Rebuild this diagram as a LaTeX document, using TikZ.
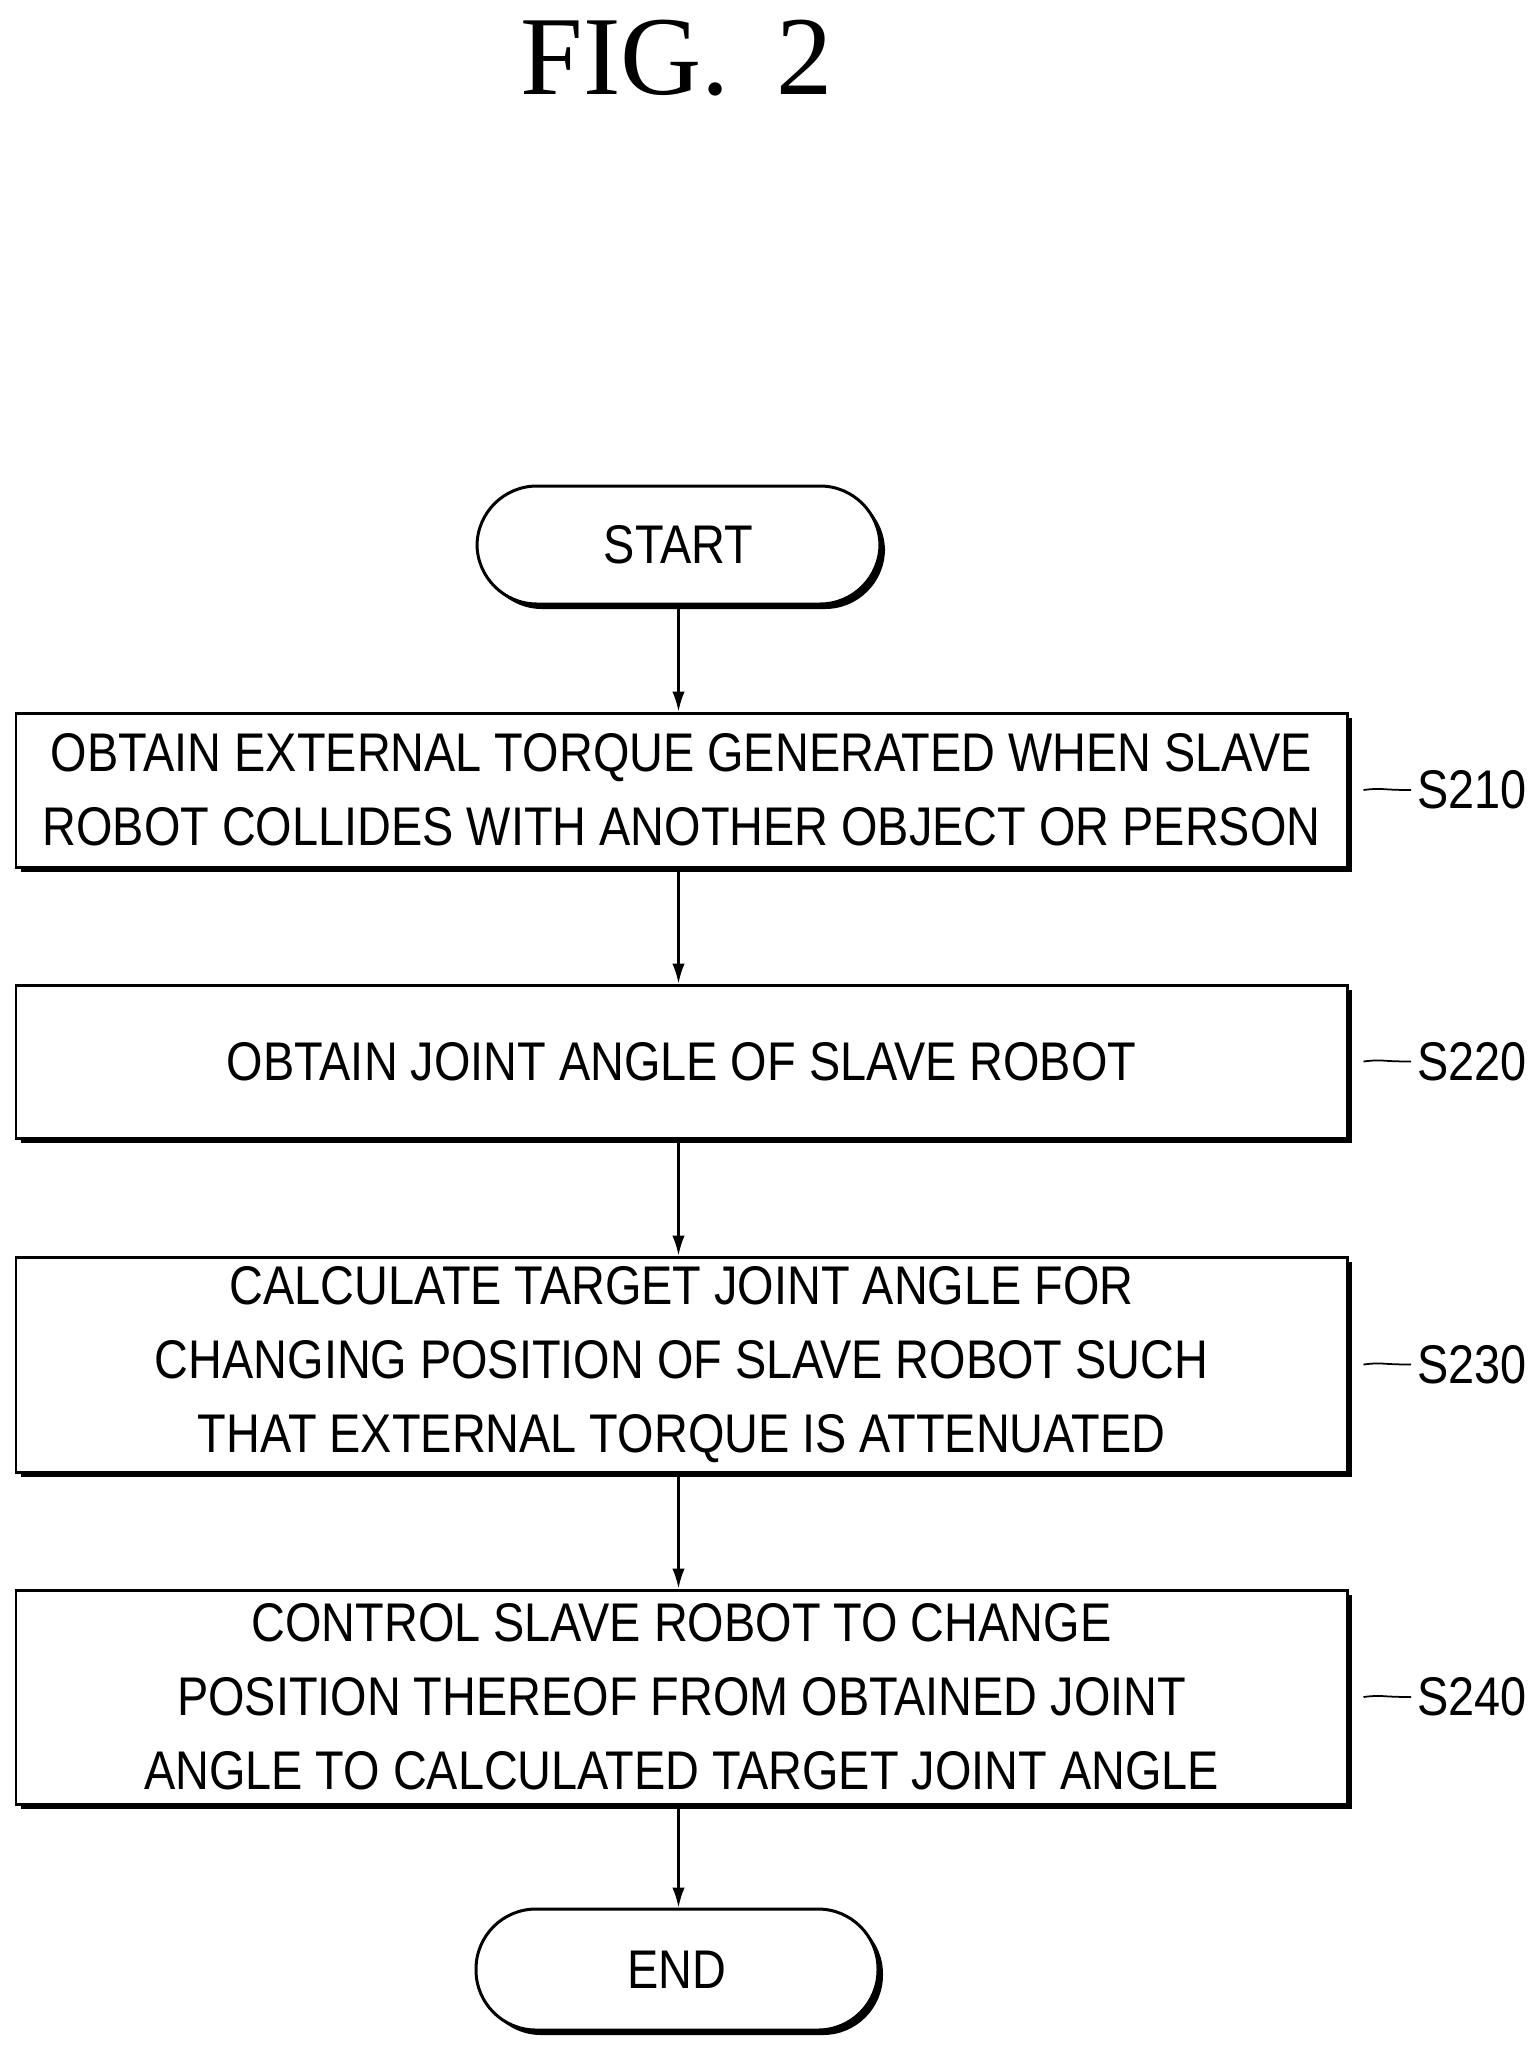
\documentclass[tikz,border=0pt]{standalone}
\usepackage{fontspec}
\usetikzlibrary{arrows.meta}
\setmainfont{Liberation Sans}[FakeStretch=0.86]
\newfontfamily\titlefont{Liberation Serif}
\begin{document}
\begin{tikzpicture}[x=0.02cm,y=-0.02cm,
  box/.style={draw,line width=0.06cm,fill=white,rectangle,inner sep=0pt,align=center,font=\fontsize{31}{42}\selectfont},
  term/.style={box,rounded corners=1.2cm},
  arr/.style={line width=0.045cm,-{Latex[length=0.4cm,width=0.25cm]}},
  lab/.style={font=\fontsize{31}{38}\selectfont,anchor=west}]
\useasboundingbox (0,0) rectangle (1532,2053);
\node[font=\titlefont\fontsize{64}{70}\selectfont] (t) at (677,58) {FIG.\, 2};
% shadows
\foreach \a/\b/\c/\d/\r in {477/486/880/604/1.2cm,476/1909/878/2030/1.2cm}{
 \fill[rounded corners=\r] (\a+5,\b+5) rectangle (\c+5,\d+5);}
\foreach \b/\d in {713/867,985/1138,1257/1472,1590/1804}{
 \fill (21,\b+5) rectangle (1352,\d+5);}
\node[term,minimum width=403*0.02cm,minimum height=118*0.02cm] (s) at (678.5,545) {START};
\node[box,minimum width=1331*0.02cm,minimum height=154*0.02cm] (b1) at (681.5,790) {OBTAIN EXTERNAL TORQUE GENERATED WHEN SLAVE\\ROBOT COLLIDES WITH ANOTHER OBJECT OR PERSON};
\node[box,minimum width=1331*0.02cm,minimum height=153*0.02cm] (b2) at (681.5,1061.5) {OBTAIN JOINT ANGLE OF SLAVE ROBOT};
\node[box,minimum width=1331*0.02cm,minimum height=215*0.02cm] (b3) at (681.5,1364.5) {CALCULATE TARGET JOINT ANGLE FOR\\CHANGING POSITION OF SLAVE ROBOT SUCH\\THAT EXTERNAL TORQUE IS ATTENUATED};
\node[box,minimum width=1331*0.02cm,minimum height=214*0.02cm] (b4) at (681.5,1697) {CONTROL SLAVE ROBOT TO CHANGE\\POSITION THEREOF FROM OBTAINED JOINT\\ANGLE TO CALCULATED TARGET JOINT ANGLE};
\node[term,minimum width=402*0.02cm,minimum height=121*0.02cm] (e) at (677,1969.5) {END};
\draw[arr] (s.south) -- (b1.north -| s.south);
\draw[arr] (b1.south -| s.south) -- (b2.north -| s.south);
\draw[arr] (b2.south -| s.south) -- (b3.north -| s.south);
\draw[arr] (b3.south -| s.south) -- (b4.north -| s.south);
\draw[arr] (b4.south -| s.south) -- (e.north -| s.south);
\foreach \n/\t in {b1/S210,b2/S220,b3/S230,b4/S240}{
 \node[lab] (l\n) at ([xshift=1.25cm]\n.east) {\t};
 \draw[line width=0.035cm] ([xshift=0.3cm]\n.east) .. controls ([xshift=0.7cm,yshift=0.05cm]\n.east) and ([xshift=0.6cm]\n.east) .. (l\n.west);}
\end{tikzpicture}
\end{document}
